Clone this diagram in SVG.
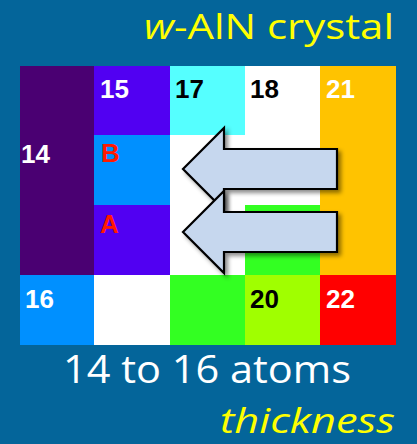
<svg xmlns="http://www.w3.org/2000/svg" width="417" height="444" viewBox="0 0 417 444">
<defs>
<style>
.num{font-family:"Liberation Sans",Arial,sans-serif;font-weight:bold;font-size:26px}
.w{fill:#ffffff}.k{fill:#000000}.r{fill:#ff1a00}
.arrow{fill:#c6d7ee;stroke:#000;stroke-width:2.2;stroke-linejoin:miter;filter:url(#sh)}
.ttl{font-family:"Open Sans","DejaVu Sans",sans-serif}
</style>
<filter id="sh" x="-20%" y="-20%" width="150%" height="150%">
<feDropShadow dx="3" dy="3" stdDeviation="2" flood-color="#000" flood-opacity="0.45"/>
</filter>
</defs>
<rect width="417" height="444" fill="#04659a"/>
<text class="ttl" x="394" y="39" text-anchor="end" font-size="34" fill="#ffff00" textLength="250" lengthAdjust="spacingAndGlyphs"><tspan font-style="italic">w</tspan>-AlN crystal</text>
<g id="grid">
<rect x="20" y="66" width="74" height="209" fill="#4a0072"/>
<rect x="20" y="275" width="74" height="70" fill="#0090ff"/>
<rect x="94" y="66" width="76" height="69" fill="#5100f2"/>
<rect x="94" y="135" width="76" height="70" fill="#0090ff"/>
<rect x="94" y="205" width="76" height="70" fill="#5100f2"/>
<rect x="94" y="275" width="76" height="70" fill="#ffffff"/>
<rect x="170" y="66" width="75" height="69" fill="#55ffff"/>
<rect x="170" y="135" width="75" height="140" fill="#ffffff"/>
<rect x="170" y="275" width="75" height="70" fill="#33ff22"/>
<rect x="245" y="66" width="75" height="139" fill="#ffffff"/>
<rect x="245" y="205" width="75" height="70" fill="#33ff22"/>
<rect x="245" y="275" width="75" height="70" fill="#a0ff00"/>
<rect x="320" y="66" width="76" height="209" fill="#ffc300"/>
<rect x="320" y="275" width="76" height="70" fill="#ff0000"/>
</g>
<g id="labels">
<text class="num w" x="100" y="98">15</text>
<text class="num k" x="175" y="98">17</text>
<text class="num k" x="250" y="98">18</text>
<text class="num w" x="326" y="98">21</text>
<text class="num w" x="21" y="163">14</text>
<text class="num r" x="101" y="162">B</text>
<text class="num r" x="100" y="233">A</text>
<text class="num w" x="25" y="308">16</text>
<text class="num k" x="250" y="308">20</text>
<text class="num w" x="326" y="308">22</text>
</g>
<g id="arrows">
<polygon id="arrowB" class="arrow" points="183,169 224,128 224,149 337,149 337,189 224,189 224,210"/>
<polygon id="arrowA" class="arrow" points="183,232 224,191 224,212 337,212 337,252 224,252 224,273"/>
</g>
<text class="ttl" x="207" y="383" text-anchor="middle" font-size="39" fill="#ffffff" textLength="288" lengthAdjust="spacingAndGlyphs">14 to 16 atoms</text>
<text class="ttl" x="395" y="433" text-anchor="end" font-size="34" font-style="italic" fill="#ffff00" textLength="175" lengthAdjust="spacingAndGlyphs">thickness</text>
</svg>
